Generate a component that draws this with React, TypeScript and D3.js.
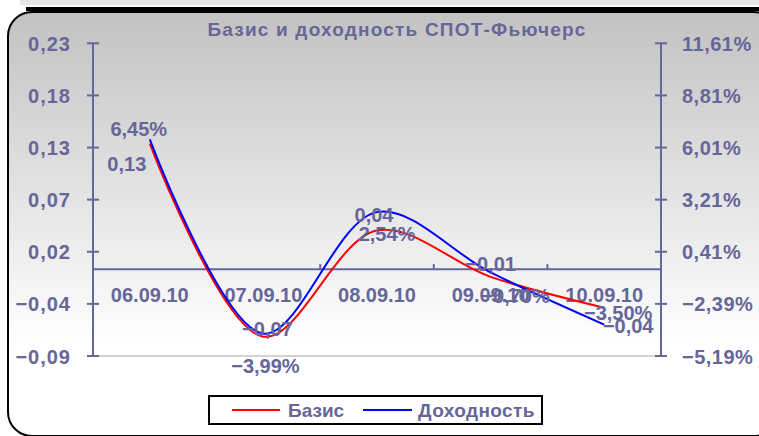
import React from "react";
import * as d3 from "d3";

const categories = ["06.09.10", "07.09.10", "08.09.10", "09.09.10", "10.09.10"];
const basisValues = [0.13, -0.07, 0.04, -0.008, -0.04];
const yieldValues = [6.45, -3.99, 2.54, -0.7, -3.5];
const leftTicks = [-0.09, -0.036, 0.018, 0.072, 0.126, 0.18, 0.234];
const rightTicks = [-5.19, -2.39, 0.41, 3.21, 6.01, 8.81, 11.61];
const title = "Базис и доходность СПОТ-Фьючерс";
const seriesNames = ["Базис", "Доходность"];

// label offsets (layout only)
const basisLabelOffsets = [[-23, 20], [4, -8], [-3, -16], [0, -13], [24, 18]];
const yieldLabelOffsets = [[-11, -10], [2, 32], [10, 22], [25, 24], [14, -12]];

const W = 759, H = 436;
const left = 93, right = 661, top = 43.3, bottom = 356;
const TEXT = "#666699";
const FONT = "'Liberation Sans', Arial, sans-serif";

const commaFmt = (f: (n: number) => string) => (v: number) => f(v).replace(".", ",");
const fmtL = commaFmt(d3.format(".2f"));
const fmtR = (v: number) => commaFmt(d3.format(".2f"))(v) + "%";

export default function App() {
  const x = d3.scaleBand().domain(categories).range([left, right]).padding(0);
  const yL = d3.scaleLinear().domain([leftTicks[0], leftTicks[leftTicks.length - 1]]).range([bottom, top]);
  const yR = d3.scaleLinear().domain([rightTicks[0], rightTicks[rightTicks.length - 1]]).range([bottom, top]);
  const cx = (c: string) => (x(c) as number) + x.bandwidth() / 2;
  const zeroY = yL(0);

  const line = d3.line<[number, number]>().x(d => d[0]).y(d => d[1]).curve(d3.curveCatmullRom.alpha(0.5));
  const basisPts: [number, number][] = categories.map((c, i) => [cx(c), yL(basisValues[i])]);
  const yieldPts: [number, number][] = categories.map((c, i) => [cx(c), yR(yieldValues[i])]);

  const boundaries = categories.map(c => x(c) as number).concat([right]);

  return (
    <svg width={W} height={H} style={{ position: "absolute", left: 0, top: 0 }} fontFamily={FONT}>
      <defs>
        <linearGradient id="bg" gradientUnits="userSpaceOnUse" x1="0" y1="12" x2="0" y2="345">
          <stop offset="0" stopColor="#c2c2c2" />
          <stop offset="1" stopColor="#ffffff" />
        </linearGradient>
      </defs>
      <rect x={0} y={0} width={W} height={H} fill="#ffffff" />
      <rect x={20} y={0} width={W} height={5} fill="#e6e6e6" />
      <rect x={8} y={12} width={770} height={424} rx={24} ry={24} fill="url(#bg)" stroke="#000" strokeWidth={2} />
      <line x1={26} x2={W} y1={9} y2={9} stroke="#000" strokeWidth={4} />

      <text x={397} y={36} textAnchor="middle" fontSize={19} fontWeight="bold" fill={TEXT} letterSpacing={1.2}>{title}</text>

      {/* plot area bottom border */}
      <line x1={left} x2={right} y1={bottom} y2={bottom} stroke="#c4c4c4" strokeWidth={1.5} />

      {/* left axis */}
      <line x1={left} x2={left} y1={top} y2={bottom} stroke={TEXT} strokeWidth={2} />
      {leftTicks.map((t, i) => (
        <g key={"l" + i}>
          <line x1={left - 6} x2={left + 6} y1={yL(t)} y2={yL(t)} stroke={TEXT} strokeWidth={2} />
          <text x={71} y={yL(t) + 7.5} textAnchor="end" fontSize={20} fontWeight="bold" fill={TEXT} letterSpacing={1}>{fmtL(t)}</text>
        </g>
      ))}

      {/* right axis */}
      <line x1={right} x2={right} y1={top} y2={bottom} stroke={TEXT} strokeWidth={2} />
      {rightTicks.map((t, i) => (
        <g key={"r" + i}>
          <line x1={right - 6} x2={right + 6} y1={yR(t)} y2={yR(t)} stroke={TEXT} strokeWidth={2} />
          <text x={682} y={yR(t) + 7.5} textAnchor="start" fontSize={20} fontWeight="bold" fill={TEXT} letterSpacing={0.5}>{fmtR(t)}</text>
        </g>
      ))}

      {/* category axis */}
      <line x1={left} x2={right} y1={zeroY} y2={zeroY} stroke={TEXT} strokeWidth={2} />
      {boundaries.map((b, i) => (
        <line key={"c" + i} x1={b} x2={b} y1={zeroY - 5} y2={zeroY} stroke={TEXT} strokeWidth={2} />
      ))}
      {categories.map(c => (
        <text key={c} x={cx(c)} y={302} textAnchor="middle" fontSize={20} fontWeight="bold" fill={TEXT}>{c}</text>
      ))}

      {/* series */}
      <path d={line(basisPts) as string} fill="none" stroke="#ff0000" strokeWidth={2} />
      <path d={line(yieldPts) as string} fill="none" stroke="#0000ff" strokeWidth={2} />

      {/* data labels */}
      {basisPts.map((p, i) => (
        <text key={"bl" + i} x={p[0] + basisLabelOffsets[i][0]} y={p[1] + basisLabelOffsets[i][1] + 7}
          textAnchor="middle" fontSize={20} fontWeight="bold" fill={TEXT}>{fmtL(basisValues[i])}</text>
      ))}
      {yieldPts.map((p, i) => (
        <text key={"yl" + i} x={p[0] + yieldLabelOffsets[i][0]} y={p[1] + yieldLabelOffsets[i][1] + 7}
          textAnchor="middle" fontSize={20} fontWeight="bold" fill={TEXT}>{fmtR(yieldValues[i])}</text>
      ))}

      {/* legend */}
      <rect x={209} y={396} width={333} height={28} fill="#fff" stroke="#000" strokeWidth={2} />
      <line x1={232} x2={280} y1={410} y2={410} stroke="#ff0000" strokeWidth={2} />
      <text x={288} y={417} fontSize={19} fontWeight="bold" fill={TEXT}>{seriesNames[0]}</text>
      <line x1={363} x2={412} y1={410} y2={410} stroke="#0000ff" strokeWidth={2} />
      <text x={418} y={417} fontSize={19} fontWeight="bold" fill={TEXT} letterSpacing={0.4}>{seriesNames[1]}</text>
    </svg>
  );
}
